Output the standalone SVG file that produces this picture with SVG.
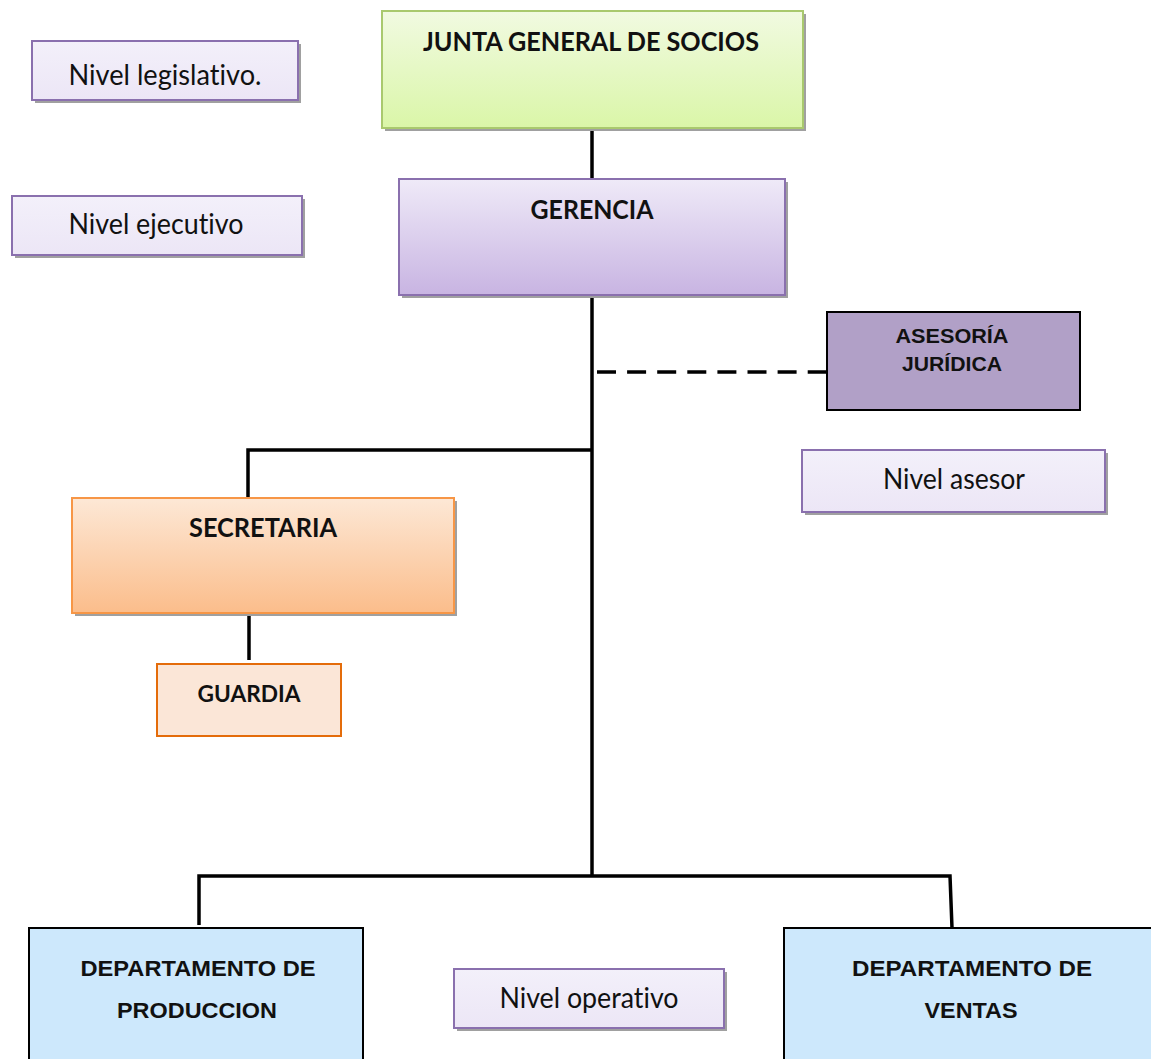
<svg xmlns="http://www.w3.org/2000/svg" width="1151" height="1059" viewBox="0 0 1151 1059">
<defs>
<linearGradient id="gGreen" x1="0" y1="0" x2="0" y2="1"><stop offset="0" stop-color="#f1fae1"/><stop offset="1" stop-color="#daf6a8"/></linearGradient>
<linearGradient id="gPurple" x1="0" y1="0" x2="0" y2="1"><stop offset="0" stop-color="#efeaf8"/><stop offset="1" stop-color="#c8b4e2"/></linearGradient>
<linearGradient id="gOrange" x1="0" y1="0" x2="0" y2="1"><stop offset="0" stop-color="#fde8d6"/><stop offset="1" stop-color="#fbbd8b"/></linearGradient>
<linearGradient id="gLevel" x1="0" y1="0" x2="0" y2="1"><stop offset="0" stop-color="#f3f0fa"/><stop offset="1" stop-color="#ece6f6"/></linearGradient>
</defs>
<style>
.shadow{fill:#a0a0a0}
.lvl{fill:url(#gLevel);stroke:#8a70ae;stroke-width:2}
text{font-variant-ligatures:none}
.lvlt{font-family:Lato,"Liberation Sans",sans-serif;font-size:28px;fill:#111;text-anchor:middle}
.cal{font-family:Lato,"Liberation Sans",sans-serif;font-weight:bold;fill:#111;text-anchor:middle}
.ari{font-family:"Liberation Sans",Arial,sans-serif;font-weight:bold;fill:#111;text-anchor:middle}
.ln{stroke:#000;stroke-width:3.5;fill:none}
.dash{stroke:#000;stroke-width:3.5;fill:none;stroke-dasharray:19 11.1}
</style>
<rect width="1151" height="1059" fill="#fff"/>
<g id="connectors">
<line class="ln" x1="592" y1="128" x2="592" y2="179"/>
<line class="ln" x1="592" y1="295" x2="592" y2="877"/>
<line class="dash" x1="597" y1="372" x2="827" y2="372"/>
<polyline class="ln" points="592,450 248,450 248,498"/>
<line class="ln" x1="249" y1="613" x2="249" y2="660"/>
<polyline class="ln" points="199,925 199,876 950,876 952,928"/>
</g>
<g id="legislativo">
<rect class="shadow" x="35" y="44" width="266" height="59"/>
<rect class="lvl" x="32" y="41" width="266" height="59"/>
<text class="lvlt" x="165" y="85" textLength="193" lengthAdjust="spacingAndGlyphs">Nivel legislativo.</text>
</g>
<g id="ejecutivo">
<rect class="shadow" x="15" y="199" width="290" height="59"/>
<rect class="lvl" x="12" y="196" width="290" height="59"/>
<text class="lvlt" x="156" y="234" textLength="175" lengthAdjust="spacingAndGlyphs">Nivel ejecutivo</text>
</g>
<g id="junta">
<rect class="shadow" x="385" y="14" width="421" height="117"/>
<rect x="382" y="11" width="421" height="117" fill="url(#gGreen)" stroke="#a9c96e" stroke-width="2"/>
<text class="cal" x="591" y="51" font-size="26" textLength="336" lengthAdjust="spacingAndGlyphs">JUNTA GENERAL DE SOCIOS</text>
</g>
<g id="gerencia">
<rect class="shadow" x="402" y="182" width="386" height="116"/>
<rect x="399" y="179" width="386" height="116" fill="url(#gPurple)" stroke="#8a70ae" stroke-width="2"/>
<text class="cal" x="592" y="219" font-size="26" textLength="123" lengthAdjust="spacingAndGlyphs">GERENCIA</text>
</g>
<g id="asesoria">
<rect x="827" y="312" width="253" height="98" fill="#b1a0c7" stroke="#000" stroke-width="2"/>
<text class="ari" x="952" y="343" font-size="20" textLength="113" lengthAdjust="spacingAndGlyphs">ASESORÍA</text>
<text class="ari" x="952" y="371" font-size="20" textLength="100" lengthAdjust="spacingAndGlyphs">JURÍDICA</text>
</g>
<g id="asesor">
<rect class="shadow" x="805" y="453" width="303" height="62"/>
<rect class="lvl" x="802" y="450" width="303" height="62"/>
<text class="lvlt" x="954" y="489" textLength="142" lengthAdjust="spacingAndGlyphs">Nivel asesor</text>
</g>
<g id="secretaria">
<rect class="shadow" x="75" y="501" width="382" height="115"/>
<rect x="72" y="498" width="382" height="115" fill="url(#gOrange)" stroke="#f79646" stroke-width="2"/>
<text class="cal" x="263" y="537" font-size="26" textLength="148" lengthAdjust="spacingAndGlyphs">SECRETARIA</text>
</g>
<g id="guardia">
<rect x="157" y="664" width="184" height="72" fill="#fbe6d7" stroke="#e46c0a" stroke-width="2"/>
<text class="cal" x="249" y="702" font-size="23" textLength="103" lengthAdjust="spacingAndGlyphs">GUARDIA</text>
</g>
<g id="produccion">
<rect x="29" y="928" width="334" height="140" fill="#cde8fc" stroke="#000" stroke-width="2"/>
<text class="ari" x="198" y="976" font-size="22" textLength="235" lengthAdjust="spacingAndGlyphs">DEPARTAMENTO DE</text>
<text class="ari" x="197" y="1018" font-size="22" textLength="160" lengthAdjust="spacingAndGlyphs">PRODUCCION</text>
</g>
<g id="operativo">
<rect class="shadow" x="457" y="972" width="270" height="59"/>
<rect class="lvl" x="454" y="969" width="270" height="59"/>
<text class="lvlt" x="589" y="1008" textLength="179" lengthAdjust="spacingAndGlyphs">Nivel operativo</text>
</g>
<g id="ventas">
<rect x="784" y="928" width="380" height="140" fill="#cde8fc" stroke="#000" stroke-width="2"/>
<text class="ari" x="972" y="976" font-size="22" textLength="240" lengthAdjust="spacingAndGlyphs">DEPARTAMENTO DE</text>
<text class="ari" x="971" y="1018" font-size="22" textLength="93" lengthAdjust="spacingAndGlyphs">VENTAS</text>
</g>
</svg>
